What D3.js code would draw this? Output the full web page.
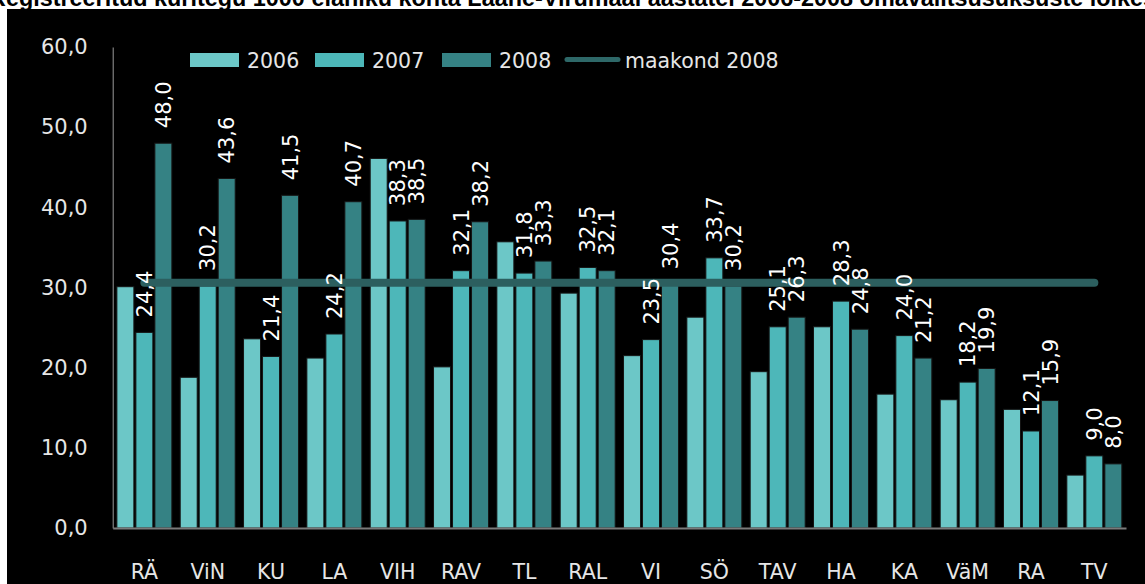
<!DOCTYPE html>
<html>
<head>
<meta charset="utf-8">
<script src="https://cdn.jsdelivr.net/npm/d3@7"></script>
<style>
  html, body { margin: 0; padding: 0; background: #fff; }
  svg text { font-family: "DejaVu Sans", sans-serif; }
</style>
</head>
<body>
<div id="chart"></div>
<script>

// omavalitsused
var categories = ['RÄ', 'ViN', 'KU', 'LA', 'VIH', 'RAV', 'TL', 'RAL', 'VI', 'SÖ', 'TAV', 'HA', 'KA', 'VäM', 'RA', 'TV'];
var seriesNames = ['2006', '2007', '2008'];

var values2006 = [30.1, 18.8, 23.6, 21.2, 46.1, 20.1, 35.7, 29.3, 21.5, 26.3, 19.5, 25.1, 16.7, 16.0, 14.8, 6.6];
var values2007 = [24.4, 30.2, 21.4, 24.2, 38.3, 32.1, 31.8, 32.5, 23.5, 33.7, 25.1, 28.3, 24.0, 18.2, 12.1, 9.0];
var values2008 = [48.0, 43.6, 41.5, 40.7, 38.5, 38.2, 33.3, 32.1, 30.4, 30.2, 26.3, 24.8, 21.2, 19.9, 15.9, 8.0];
var maakond2008 = 30.6;

var yTicks = [0, 10, 20, 30, 40, 50, 60];

var colors = ['#6cc7c7', '#4db7b9', '#358284'];
var lineColor = '#2c5f5f';

var width = 1145, height = 584;

var svg = d3.select('#chart')
			.append('svg')
			.attr('width', width)
			.attr('height', height);

// pealkiri (üleval ära lõigatud) ja must taust
svg.append('text')
	.attr('x', -11)
	.attr('y', 6)
	.style('font-family', '"Liberation Sans", Arial, sans-serif')
	.style('font-weight', 'bold')
	.style('font-size', '23.4px')
	.attr('fill', '#000')
	.text('Registreeritud kuritegu 1000 elaniku kohta Lääne-Virumaal aastatel 2006-2008 omavalitsusüksuste lõikes');

svg.append('rect')
	.attr('x', 7).attr('y', 9)
	.attr('width', width - 7).attr('height', height - 9)
	.attr('fill', '#000');

var x0 = d3.scaleBand()
			.domain(categories)
			.range([112.7, 1126])
			.paddingInner(0.1316)
			.paddingOuter(0.0658);

var x1 = d3.scaleBand()
			.domain(seriesNames)
			.range([0, x0.bandwidth()])
			.paddingInner(0.105);

var y = d3.scaleLinear()
			.domain([0, 60])
			.range([528, 47]);

var fmt = d3.formatLocale({ decimal: ',', thousands: ' ', grouping: [3], currency: ['', ''] }).format('.1f');

// y telg
var yAxis = svg.append('g')
	.attr('transform', 'translate(112.7,0)')
	.call(d3.axisLeft(y).tickValues(yTicks).tickFormat(fmt).tickSize(0).tickPadding(25));
yAxis.select('.domain').attr('stroke', '#9a9a9a').attr('stroke-width', 1);
yAxis.selectAll('text')
	.attr('fill', '#e6e6e6')
	.style('font-size', '21px');

var table = categories.map(function(c, i) {
	return { cat: c, vals: [values2006[i], values2007[i], values2008[i]] };
});

var groups = svg.selectAll('g.group')
	.data(table)
	.enter()
	.append('g')
	.attr('class', 'group')
	.attr('transform', function(d) { return 'translate(' + x0(d.cat) + ',0)'; });

groups.selectAll('rect')
	.data(function(d) { return d.vals.map(function(v, j) { return { s: seriesNames[j], v: v, j: j }; }); })
	.enter()
	.append('rect')
	.attr('x', function(d) { return x1(d.s); })
	.attr('y', function(d) { return y(d.v); })
	.attr('width', x1.bandwidth())
	.attr('height', function(d) { return y(0) - y(d.v); })
	.attr('fill', function(d) { return colors[d.j]; })
	.attr('stroke', '#151515')
	.attr('stroke-width', 1);

// x telg
var xAxis = svg.append('g')
	.attr('transform', 'translate(0,528)')
	.call(d3.axisBottom(x0).tickSize(0).tickSizeOuter(0).tickPadding(36));
xAxis.select('.domain').attr('stroke', '#7a7a7a').attr('stroke-width', 2);
xAxis.selectAll('text')
	.attr('fill', '#e6e6e6')
	.style('font-size', '20.5px');

// maakond 2008
var line = d3.line()
	.x(function(d) { return x0(d) + x0.bandwidth() / 2; })
	.y(function() { return y(maakond2008); });

svg.append('path')
	.datum(categories)
	.attr('d', line)
	.attr('fill', 'none')
	.attr('stroke', lineColor)
	.attr('stroke-width', 8)
	.attr('stroke-linecap', 'round');

// väärtused 2007 ja 2008 kohta
[1, 2].forEach(function(j) {
	var vals = j == 1 ? values2007 : values2008;
	svg.selectAll('text.lbl' + j)
		.data(categories)
		.enter()
		.append('text')
		.attr('class', 'lbl' + j)
		.attr('transform', function(c, i) {
			var cx = x0(c) + x1(seriesNames[j]) + x1.bandwidth() / 2;
			return 'translate(' + cx + ',' + (y(vals[i]) - 15) + ') rotate(-90)';
		})
		.attr('dy', '0.36em')
		.attr('fill', '#fff')
		.style('font-size', '21px')
		.text(function(c, i) { return fmt(vals[i]); });
});

// legend
var legend = svg.append('g');
var legendX = [190, 315, 442];
seriesNames.forEach(function(s, j) {
	legend.append('rect')
		.attr('x', legendX[j]).attr('y', 53)
		.attr('width', 49).attr('height', 14)
		.attr('fill', colors[j]);
	legend.append('text')
		.attr('x', legendX[j] + 57).attr('y', 67.5)
		.attr('fill', '#e6e6e6')
		.style('font-size', '20.5px')
		.text(s);
});
legend.append('line')
	.attr('x1', 567).attr('x2', 618)
	.attr('y1', 59.5).attr('y2', 59.5)
	.attr('stroke', '#2e6868')
	.attr('stroke-width', 5)
	.attr('stroke-linecap', 'round');
legend.append('text')
	.attr('x', 625).attr('y', 67.5)
	.attr('fill', '#e6e6e6')
	.style('font-size', '20.5px')
	.text('maakond 2008');

</script>
</body>
</html>
